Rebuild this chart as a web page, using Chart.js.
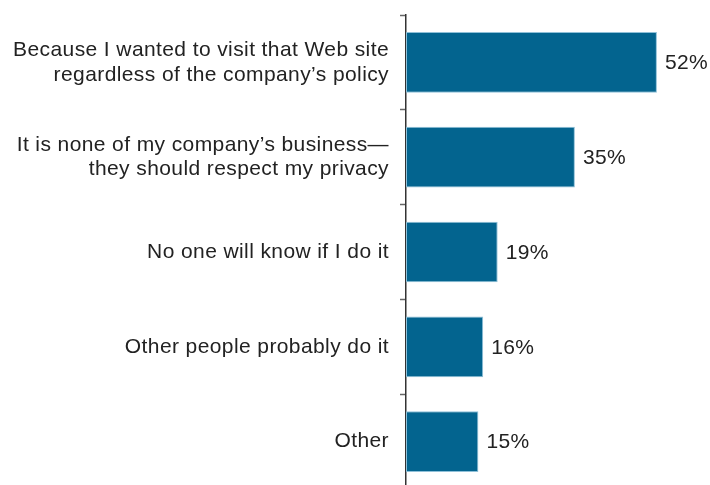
<!DOCTYPE html>
<html>
<head>
<meta charset="utf-8">
<script src="https://cdn.jsdelivr.net/npm/chart.js@4/dist/chart.umd.min.js"></script>
<style>
  html, body { margin: 0; padding: 0; background: #fff; overflow: hidden; }
  #wrap { position: relative; width: 710px; height: 490px; }
</style>
</head>
<body>
<div id="wrap"><canvas id="c" width="710" height="490"></canvas></div>
<script>
// Reasons given for visiting blocked Web sites
const categories = [
  ["Because I wanted to visit that Web site", "regardless of the company\u2019s policy"],
  ["It is none of my company\u2019s business\u2014", "they should respect my privacy"],
  "No one will know if I do it",
  "Other people probably do it",
  "Other"
];
const shares = [52, 35, 19, 16, 15];
const valueLabels = ["52%", "35%", "19%", "16%", "15%"];

const FONT = "'Liberation Sans', Arial, Helvetica, sans-serif";
const TRACKING = "0.4px";

// Slightly open letter spacing for every text drawn on the canvas
const tracking = {
  id: 'tracking',
  beforeLayout(chart) { chart.ctx.letterSpacing = TRACKING; },
  beforeDraw(chart) { chart.ctx.letterSpacing = TRACKING; }
};

// Writes the percentage just past the end of each bar
const barValueLabels = {
  id: 'barValueLabels',
  afterDatasetsDraw(chart) {
    const ctx = chart.ctx;
    const meta = chart.getDatasetMeta(0);
    ctx.save();
    ctx.letterSpacing = TRACKING;
    ctx.font = "21px " + FONT;
    ctx.fillStyle = "#222222";
    ctx.textAlign = "left";
    ctx.textBaseline = "middle";
    meta.data.forEach((bar, i) => {
      ctx.fillText(valueLabels[i], bar.x + 8, bar.y + 1);
    });
    ctx.restore();
  }
};

new Chart(document.getElementById('c'), {
  type: 'bar',
  data: {
    labels: categories,
    datasets: [{
      data: shares,
      backgroundColor: '#03648f',
      borderColor: '#8fc0d8',
      borderWidth: 1,
      borderSkipped: false,
      barPercentage: 1,
      categoryPercentage: 0.64
    }]
  },
  options: {
    indexAxis: 'y',
    responsive: false,
    animation: false,
    layout: { padding: { top: 15, bottom: 1, left: 0, right: 0 } },
    plugins: { legend: { display: false }, tooltip: { enabled: false } },
    scales: {
      x: {
        display: false,
        min: 0,
        max: 63
      },
      y: {
        afterFit(scale) {
          scale.width = 406;
          scale.paddingTop = 0;
          scale.paddingBottom = 0;
        },
        grid: {
          offset: true,
          drawOnChartArea: false,
          drawTicks: true,
          tickLength: 6,
          tickWidth: 1.5,
          tickColor: '#666666'
        },
        border: { display: true, color: '#333333', width: 1.5 },
        ticks: {
          padding: 11,
          color: '#222222',
          font: { family: FONT, size: 21, lineHeight: 1.19 }
        }
      }
    }
  },
  plugins: [tracking, barValueLabels]
});
</script>
</body>
</html>
